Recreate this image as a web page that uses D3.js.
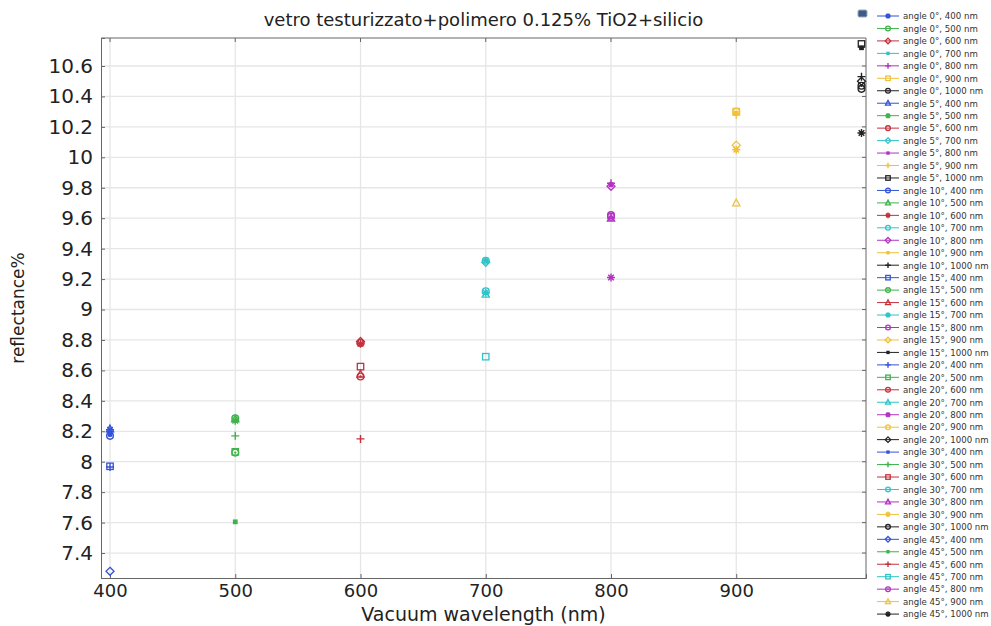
<!DOCTYPE html>
<html><head><meta charset="utf-8">
<script src="https://cdn.jsdelivr.net/npm/d3@7"></script>
<style>body{margin:0;background:#fff}svg{display:block}</style>
</head><body><svg id="c" width="991" height="626"></svg>
<script>
const title = "vetro testurizzato+polimero 0.125% TiO2+silicio";
const xLabel = "Vacuum wavelength (nm)";
const yLabel = "reflectance%";
const angles = [0, 5, 10, 15, 20, 30, 45];
const wavelengths = [400, 500, 600, 700, 800, 900, 1000];
// reflectance values per angle, one per wavelength
const refl0  = [8.21, 8.285, 8.79, 9.32, 9.83, 10.30, 10.47];
const refl5  = [8.215, 8.27, 8.78, 9.31, 9.82, 10.28, 10.745];
const refl10 = [8.17, 8.28, 8.775, 9.32, 9.81, 10.29, 10.53];
const refl15 = [7.97, 8.06, 8.575, 9.11, 9.62, 10.08, 10.72];
const refl20 = [7.965, 8.065, 8.56, 9.10, 9.21, 10.30, 10.50];
const refl30 = [8.18, 8.17, 8.625, 9.12, 9.60, 10.05, 10.45];
const refl45 = [7.28, 7.605, 8.15, 8.69, 9.61, 9.70, 10.16];
const reflByAngle = [refl0, refl5, refl10, refl15, refl20, refl30, refl45];
const xTicks = [400, 500, 600, 700, 800, 900];
const yTicks = [7.4, 7.6, 7.8, 8, 8.2, 8.4, 8.6, 8.8, 9, 9.2, 9.4, 9.6, 9.8, 10, 10.2, 10.4, 10.6];
const wlColors = ["#3553d6", "#3fb24c", "#c4303c", "#2fc4c8", "#b133c2", "#efc23a", "#222222"];
const markerCycle = ["asterisk", "circle", "diamond", "point", "plus", "square", "star", "triangle"];

const svg = d3.select("#c");
const L = 101, R = 866, T = 38, B = 578;
const x = d3.scaleLinear().domain([392.8, 1003.6]).range([L, R]);
const y = d3.scaleLinear().domain([7.236, 10.784]).range([B, T]);
const FONT = "'DejaVu Sans', 'Liberation Sans', sans-serif";

// grid
svg.append("g").selectAll("line").data(yTicks).join("line")
  .attr("x1", L).attr("x2", R).attr("y1", d => y(d)).attr("y2", d => y(d))
  .attr("stroke", "#e6e6e6").attr("stroke-width", 1.3);
svg.append("g").selectAll("line").data(xTicks).join("line")
  .attr("y1", T).attr("y2", B).attr("x1", d => x(d)).attr("x2", d => x(d))
  .attr("stroke", "#e6e6e6").attr("stroke-width", 1.3);

// axes
const fmt = d => (Math.round(d * 10) / 10).toString();
const xAxis = svg.append("g").attr("transform", `translate(0,${B})`)
  .call(d3.axisBottom(x).tickValues(xTicks).tickSize(-4).tickPadding(6).tickFormat(d3.format("d")));
const yAxis = svg.append("g").attr("transform", `translate(${L},0)`)
  .call(d3.axisLeft(y).tickValues(yTicks).tickSize(-4).tickPadding(8).tickFormat(fmt));
[xAxis, yAxis].forEach(a => {
  a.select(".domain").attr("stroke", "#666");
  a.selectAll(".tick line").attr("stroke", "#666");
  a.selectAll("text").attr("font-family", FONT).attr("fill", "#222");
});
xAxis.selectAll("text").attr("font-size", 18);
yAxis.selectAll("text").attr("font-size", 20);
// top & right frame with ticks
svg.append("line").attr("x1", L).attr("x2", R).attr("y1", T).attr("y2", T).attr("stroke", "#666");
svg.append("line").attr("x1", R).attr("x2", R).attr("y1", T).attr("y2", B).attr("stroke", "#666");
svg.append("g").selectAll("line").data(yTicks).join("line")
  .attr("x1", R - 4).attr("x2", R).attr("y1", d => y(d)).attr("y2", d => y(d)).attr("stroke", "#666");
svg.append("g").selectAll("line").data(xTicks).join("line")
  .attr("y1", T).attr("y2", T + 4).attr("x1", d => x(d)).attr("x2", d => x(d)).attr("stroke", "#666");

// titles
svg.append("text").attr("x", (L + R) / 2).attr("y", 26).attr("text-anchor", "middle")
  .attr("font-family", FONT).attr("font-size", 18).attr("fill", "#222").text(title);
svg.append("text").attr("x", (L + R) / 2).attr("y", 621).attr("text-anchor", "middle")
  .attr("font-family", FONT).attr("font-size", 19).attr("fill", "#222").text(xLabel);
svg.append("text").attr("transform", `translate(24,${(T + B) / 2}) rotate(-90)`).attr("text-anchor", "middle")
  .attr("font-family", FONT).attr("font-size", 17).attr("fill", "#222").text(yLabel);

function drawMarker(g, type, color, r) {
  const s = color;
  switch (type) {
    case "asterisk":
      g.append("path").attr("d", `M${-r},0H${r}M0,${-r}V${r}M${-r*0.7},${-r*0.7}L${r*0.7},${r*0.7}M${-r*0.7},${r*0.7}L${r*0.7},${-r*0.7}`)
        .attr("stroke", s).attr("stroke-width", 1.4).attr("fill", "none"); break;
    case "circle":
      g.append("circle").attr("r", r * 0.85).attr("stroke", s).attr("stroke-width", 1.3).attr("fill", "none"); break;
    case "star":
      g.append("circle").attr("r", r * 0.85).attr("stroke", s).attr("stroke-width", 1.3).attr("fill", "none");
      g.append("circle").attr("r", r * 0.3).attr("fill", s); break;
    case "diamond":
      g.append("path").attr("d", `M0,${-r}L${r},0L0,${r}L${-r},0Z`).attr("stroke", s).attr("stroke-width", 1.3).attr("fill", "none"); break;
    case "point":
      g.append("rect").attr("x", -r*0.6).attr("y", -r*0.6).attr("width", r*1.2).attr("height", r*1.2).attr("fill", s); break;
    case "plus":
      g.append("path").attr("d", `M${-r},0H${r}M0,${-r}V${r}`).attr("stroke", s).attr("stroke-width", 1.4); break;
    case "square":
      g.append("rect").attr("x", -r*0.8).attr("y", -r*0.8).attr("width", r*1.6).attr("height", r*1.6)
        .attr("stroke", s).attr("stroke-width", 1.3).attr("fill", "none"); break;
    case "triangle":
      g.append("path").attr("d", `M0,${-r}L${r*0.9},${r*0.7}L${-r*0.9},${r*0.7}Z`).attr("stroke", s).attr("stroke-width", 1.3).attr("fill", "none"); break;
  }
}

// series: one per (angle, wavelength)
const series = [];
angles.forEach((a, ai) => wavelengths.forEach((w, wi) => {
  series.push({ angle: a, wl: w, value: reflByAngle[ai][wi], color: wlColors[wi],
    marker: markerCycle[(ai * wavelengths.length + wi) % markerCycle.length] });
}));

const pts = svg.append("g");
series.forEach(s => {
  const g = pts.append("g").attr("transform", `translate(${x(s.wl)},${y(s.value)})`);
  drawMarker(g, s.marker, s.color, 4);
});

// legend
const leg = svg.append("g");
leg.append("rect").attr("x", 858).attr("y", 10).attr("width", 9).attr("height", 7).attr("rx", 1.5)
  .attr("fill", "#3c5a8c").attr("stroke", "#9ab").attr("stroke-width", 1);
series.forEach((s, i) => {
  const yy = 16 + i * 12.46;
  const g = leg.append("g").attr("transform", `translate(0,${yy})`);
  g.append("line").attr("x1", 877).attr("x2", 899).attr("y1", 0).attr("y2", 0).attr("stroke", s.color).attr("stroke-width", 1);
  const m = g.append("g").attr("transform", "translate(888,0)");
  drawMarker(m, s.marker, s.color, 2.8);
  g.append("text").attr("x", 903).attr("y", 3.3).attr("font-family", FONT).attr("font-size", 8.6)
    .attr("fill", "#333").text(`angle ${s.angle}°, ${s.wl} nm`);
});
</script>
</body></html>
